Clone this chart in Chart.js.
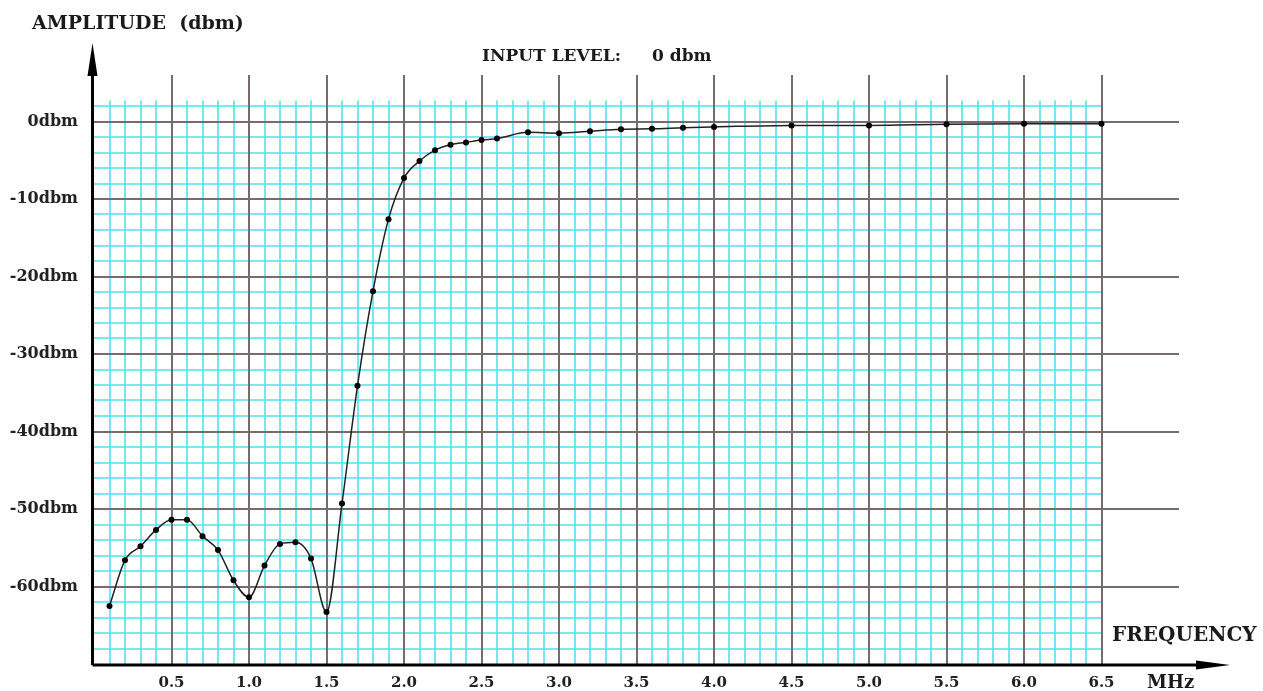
<!DOCTYPE html>
<html>
<head>
<meta charset="utf-8">
<title>Amplitude vs Frequency</title>
<script src="https://cdn.jsdelivr.net/npm/chart.js@4.4.1/dist/chart.umd.min.js"></script>
<style>
  html, body { margin: 0; padding: 0; background: #fff; }
  #wrap { width: 1263px; height: 691px; position: relative; }
</style>
</head>
<body>
<div id="wrap"><canvas id="myChart1"></canvas></div>
<script>
// values (MHz / dbm)
const freqs = [0.1, 0.2, 0.3, 0.4, 0.5, 0.6, 0.7, 0.8, 0.9, 1.0,
  1.1, 1.2, 1.3, 1.4, 1.5, 1.6, 1.7, 1.8, 1.9, 2.0,
  2.1, 2.2, 2.3, 2.4, 2.5, 2.6, 2.8, 3.0, 3.2, 3.4,
  3.6, 3.8, 4.0, 4.5, 5.0, 5.5, 6.0, 6.5];
const amps = [-62.5, -56.6, -54.8, -52.7, -51.4, -51.4, -53.5, -55.3, -59.2, -61.4,
  -57.3, -54.5, -54.3, -56.4, -63.3, -49.3, -34.1, -21.9, -12.6, -7.3,
  -5.1, -3.7, -3.0, -2.7, -2.4, -2.2, -1.4, -1.5, -1.25, -1.0,
  -0.95, -0.8, -0.7, -0.5, -0.5, -0.35, -0.3, -0.3];
const freqTicks = [0.5, 1.0, 1.5, 2.0, 2.5, 3.0, 3.5, 4.0, 4.5, 5.0, 5.5, 6.0, 6.5];
const ampTicks = [0, -10, -20, -30, -40, -50, -60];

const FONT = "DejaVu Serif";

// cyan graph paper under the major lines
const paperGrid = {
  id: "paperGrid",
  beforeDraw(chart) {
    const ctx = chart.ctx;
    const x = chart.scales.x, y = chart.scales.y;
    const yTop = y.getPixelForValue(2.7), yBot = y.getPixelForValue(-70);
    const xL = x.getPixelForValue(0), xR = x.getPixelForValue(6.5);
    ctx.save();
    ctx.strokeStyle = "rgb(80,228,236)";
    ctx.lineWidth = 1.6;
    ctx.beginPath();
    for (let i = 1; i <= 65; i++) {
      const px = Math.round(x.getPixelForValue(i / 10));
      ctx.moveTo(px, yTop);
      ctx.lineTo(px, yBot);
    }
    for (let v = -68; v <= 2; v += 2) {
      const py = Math.round(y.getPixelForValue(v));
      ctx.moveTo(xL, py);
      ctx.lineTo(xR, py);
    }
    ctx.stroke();
    ctx.restore();
  }
};

// arrowed axes + captions
const axesAndText = {
  id: "axesAndText",
  afterDraw(chart) {
    const ctx = chart.ctx;
    const ox = 92.5, oy = 665;
    ctx.save();
    ctx.strokeStyle = "#000";
    ctx.fillStyle = "#000";
    ctx.lineWidth = 3;
    ctx.beginPath();
    ctx.moveTo(ox, oy);
    ctx.lineTo(ox, 60);
    ctx.moveTo(ox, oy);
    ctx.lineTo(1210, oy);
    ctx.stroke();
    ctx.beginPath();
    ctx.moveTo(ox, 43);
    ctx.lineTo(ox - 5, 76);
    ctx.lineTo(ox + 5, 76);
    ctx.closePath();
    ctx.fill();
    ctx.beginPath();
    ctx.moveTo(1230, oy);
    ctx.lineTo(1196, oy - 4.5);
    ctx.lineTo(1196, oy + 4.5);
    ctx.closePath();
    ctx.fill();

    ctx.fillStyle = "#1a1a1a";
    ctx.textBaseline = "middle";
    ctx.textAlign = "left";
    ctx.font = "bold 19px '" + FONT + "'";
    ctx.fillText("AMPLITUDE  (dbm)", 32, 24);
    ctx.font = "bold 17px '" + FONT + "'";
    ctx.fillText("INPUT LEVEL:", 482, 57);
    ctx.fillText("0 dbm", 652, 57);
    ctx.font = "bold 20px '" + FONT + "'";
    ctx.fillText("FREQUENCY", 1112, 636);
    ctx.font = "bold 18px '" + FONT + "'";
    ctx.fillText("MHz", 1147, 683);
    ctx.restore();
  }
};

const data = {
  datasets: [
    {
      label: "amplitude",
      data: freqs.map((f, i) => ({ x: f, y: amps[i] })),
      borderColor: "#222",
      borderWidth: 1.5,
      cubicInterpolationMode: "monotone",
      pointRadius: 3,
      pointBackgroundColor: "#000",
      pointBorderWidth: 0,
      clip: false,
    },
  ],
};

const config = {
  type: "line",
  data: data,
  options: {
    responsive: true,
    maintainAspectRatio: false,
    animation: false,
    layout: { padding: { left: 0, top: 75, right: 84, bottom: 0 } },
    plugins: {
      legend: { display: false },
      tooltip: { enabled: false },
    },
    scales: {
      x: {
        type: "linear",
        min: 0,
        max: 7,
        afterBuildTicks: (s) => { s.ticks = freqTicks.map((v) => ({ value: v })); },
        afterFit: (s) => { s.height = 27; },
        border: { display: false },
        grid: { color: "#776c6c", lineWidth: 2, drawTicks: false },
        ticks: {
          autoSkip: false,
          maxRotation: 0,
          padding: 10,
          color: "#222",
          font: { family: FONT, size: 15, weight: "bold" },
          callback: (v) => Number(v).toFixed(1),
        },
      },
      y: {
        min: -70,
        max: 6,
        afterBuildTicks: (s) => { s.ticks = ampTicks.map((v) => ({ value: v })); },
        afterFit: (s) => { s.width = 94; },
        border: { display: false },
        grid: { color: "#776c6c", lineWidth: 2, drawTicks: false },
        ticks: {
          padding: 16,
          color: "#222",
          font: { family: FONT, size: 16, weight: "bold" },
          callback: (v) => v + "dbm",
        },
      },
    },
  },
  plugins: [paperGrid, axesAndText],
};

const myChart = new Chart(document.getElementById("myChart1"), config);
</script>
</body>
</html>
